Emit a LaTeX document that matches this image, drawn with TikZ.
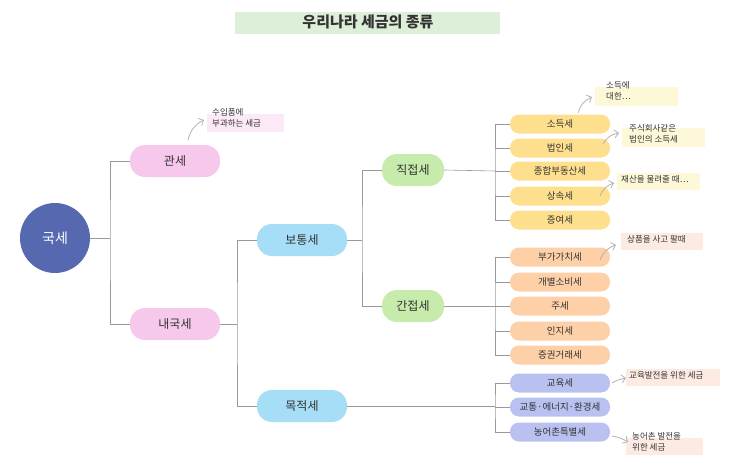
\documentclass[tikz,border=0pt]{standalone}
\usepackage{fontspec}
\setmainfont{Noto Sans CJK KR}
\usetikzlibrary{arrows.meta}
\definecolor{circ}{HTML}{5568B0}
\definecolor{pk}{HTML}{F5C8EC}
\definecolor{bl}{HTML}{A6DDF7}
\definecolor{gr}{HTML}{C6EBAA}
\definecolor{ye}{HTML}{FDDF8E}
\definecolor{orr}{HTML}{FDD0A8}
\definecolor{lv}{HTML}{B9C1F0}
\definecolor{nye}{HTML}{FDF8D8}
\definecolor{npe}{HTML}{FDEAE2}
\definecolor{npk}{HTML}{FBE9F8}
\definecolor{tg}{HTML}{DDEFD8}
\tikzset{
 pill/.style={rounded corners=15pt,minimum width=#1,minimum height=32pt,font=\fontsize{12}{14}\selectfont,text=black!80,inner sep=0pt},
 leaf/.style={rounded corners=9pt,minimum width=100pt,minimum height=19pt,font=\fontsize{9.5}{10}\selectfont,text=black!80,inner sep=0pt},
 note/.style={font=\fontsize{8.5}{11}\selectfont,text=black!80,inner sep=2pt,align=left,anchor=north west},
 ln/.style={draw=black!40,line width=0.6pt},
 ar/.style={draw=black!30,line width=0.8pt,-{Straight Barb[length=4pt,width=8pt]},bend left=25},
}
\begin{document}
\begin{tikzpicture}[x=1pt,y=-1pt]
\useasboundingbox (0,0) rectangle (734,466);
\fill[tg] (235,12) rectangle (500,34);
\node[font=\fontsize{15}{17}\selectfont\bfseries,text=black!80] (title) at (368,22) {우리나라 세금의 종류};
\node[circle,fill=circ,minimum size=70pt,text=white,font=\fontsize{14}{16}\selectfont] (root) at (55,238) {국세};
\node[pill=90pt,fill=pk] (gw) at (175,161) {관세};
\node[pill=90pt,fill=pk] (ng) at (175,324) {내국세};
\node[pill=90pt,fill=bl] (bt) at (302,240) {보통세};
\node[pill=90pt,fill=bl] (mj) at (302,406) {목적세};
\node[pill=62pt,fill=gr] (jj) at (413,170) {직접세};
\node[pill=62pt,fill=gr] (gj) at (413,306) {간접세};
\foreach \n/\t/\y in {a1/소득세/124,a2/법인세/148,a3/종합부동산세/171,a4/상속세/196,a5/증여세/220}
  \node[leaf,fill=ye] (\n) at (560,\y) {\t};
\foreach \n/\t/\y in {b1/부가가치세/257,b2/개별소비세/282,b3/주세/306,b4/인지세/331,b5/증권거래세/355}
  \node[leaf,fill=orr] (\n) at (560,\y) {\t};
\foreach \n/\t/\y in {c1/교육세/383,c2/교통·에너지·환경세/407,c3/농어촌특별세/432}
  \node[leaf,fill=lv] (\n) at (560,\y) {\t};
% connectors
\draw[ln] (root.east) -- (110,238) coordinate (t1);
\draw[ln] (gw.west) -| (t1) |- (ng.west);
\draw[ln] (ng.east) -- (237,324) coordinate (t2);
\draw[ln] (bt.west) -| (t2) |- (mj.west);
\draw[ln] (bt.east) -- (362,240) coordinate (t3);
\draw[ln] (jj.west) -| (t3) |- (gj.west);
\draw[ln] (jj.east) -- (495,171) coordinate (t4);
\draw[ln] (a1.west) -| (t4) |- (a5.west);
\foreach \n in {a2,a3,a4} \draw[ln] (\n.west) -- (\n.west -| t4);
\draw[ln] (gj.east) -- (495,306) coordinate (t5);
\draw[ln] (b1.west) -| (t5) |- (b5.west);
\foreach \n in {b2,b3,b4} \draw[ln] (\n.west) -- (\n.west -| t5);
\draw[ln] (mj.east) -- (495,406) coordinate (t6);
\draw[ln] (c1.west) -| (t6) |- (c3.west);
\draw[ln] (c2.west) -- (c2.west -| t6);
% notes
\fill[nye] (595,87) rectangle (678,106);
\node[note] (n1) at (604,79) {소득에\\대한…};
\fill[nye] (622,128) rectangle (705,147);
\node[note] (n2) at (627,122) {주식회사같은\\법인의 소득세};
\fill[nye] (617,173) rectangle (700,190);
\node[note] (n3) at (619,173) {재산을 물려줄 때…};
\fill[npe] (621,233) rectangle (703,250);
\node[note] (n4) at (625,233) {상품을 사고 팔때};
\fill[npe] (626,369) rectangle (720,386);
\node[note] (n5) at (627,369) {교육발전을 위한 세금};
\fill[npe] (626,438) rectangle (703,455);
\node[note] (n6) at (630,430) {농어촌 발전을\\위한 세금};
\fill[npk] (207,114) rectangle (284,132);
\node[note] (n7) at (210,106) {수입품에\\부과하는 세금};
\draw[ar] (578,113) to (592,97);
\draw[ar] (603,144) to (619,133);
\draw[ar] (600,196) to (614,183);
\draw[ar] (600,260) to (616,245);
\draw[ar,bend left=10] (612,383) to (626,378);
\draw[ar,bend left=10] (612,436) to (628,442);
\draw[ar] (188,140) to (204,120);
\end{tikzpicture}
\end{document}
